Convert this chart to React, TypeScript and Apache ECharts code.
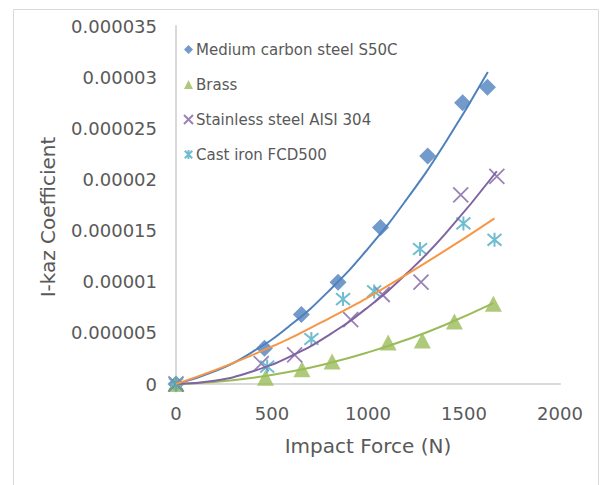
import React, { useEffect, useRef } from "react";
import * as echarts from "echarts";

// Measured points (Impact Force in N, I-kaz coefficient)
const forceS50C = [0, 461, 653, 844, 1065, 1311, 1493, 1622];
const ikazS50C = [0, 3.5e-6, 6.8e-6, 9.95e-6, 15.3e-6, 22.3e-6, 27.5e-6, 29.0e-6];

const forceBrass = [0, 466, 656, 813, 1105, 1283, 1450, 1653];
const ikazBrass = [0, 0.6e-6, 1.45e-6, 2.2e-6, 4.05e-6, 4.25e-6, 6.1e-6, 7.85e-6];

const forceSS304 = [0, 444, 618, 910, 1074, 1276, 1483, 1671];
const ikazSS304 = [0, 2.0e-6, 2.85e-6, 6.3e-6, 8.75e-6, 9.95e-6, 18.5e-6, 20.3e-6];

const forceFCD = [0, 475, 705, 870, 1032, 1271, 1497, 1659];
const ikazFCD = [0, 1.7e-6, 4.4e-6, 8.3e-6, 9.05e-6, 13.2e-6, 15.7e-6, 14.1e-6];

// Trendline samples
const trendForceS50C = [0, 200, 400, 600, 800, 1000, 1200, 1400, 1624];
const trendS50C = [0, 1.23e-6, 3.16e-6, 5.81e-6, 9.17e-6, 13.24e-6, 18.02e-6, 23.51e-6, 30.5e-6];

const trendForceBrass = [0, 200, 400, 600, 800, 1000, 1200, 1400, 1653];
const trendBrass = [0, 0.2e-6, 0.61e-6, 1.22e-6, 2.05e-6, 3.09e-6, 4.32e-6, 5.77e-6, 7.9e-6];

const trendForceSS304 = [0, 200, 400, 600, 800, 1000, 1200, 1400, 1671];
const trendSS304 = [0, 0.32e-6, 1.24e-6, 2.74e-6, 4.83e-6, 7.51e-6, 10.77e-6, 14.63e-6, 20.8e-6];

const trendForceFCD = [0, 400, 800, 1200, 1659];
const trendFCD = [0, 2.85e-6, 6.45e-6, 10.7e-6, 16.2e-6];

const seriesNames = [
  "Medium carbon steel S50C",
  "Brass",
  "Stainless steel AISI 304",
  "Cast iron FCD500",
];

const xTicks = { min: 0, max: 2000, interval: 500 };
const yTicks = { min: 0, max: 0.000035, interval: 0.000005 };

const zip = (xs: number[], ys: number[]) => xs.map((x, i) => [x, ys[i]]);

const FONT = "DejaVu Sans";
const TXT = "#595959";

const xMark = "path://M0,0L10,10M10,0L0,10";
const starMark = "path://M0,0L10,10M10,0L0,10M5,-1L5,11";

export default function App() {
  const ref = useRef<HTMLDivElement>(null);
  useEffect(() => {
    if (!ref.current) return;
    const chart = echarts.init(ref.current, undefined, { renderer: "svg" });
    const trend = (name: string, xs: number[], ys: number[], color: string) => ({
      name: name + " trend",
      type: "line",
      data: zip(xs, ys),
      smooth: true,
      showSymbol: false,
      symbol: "none",
      lineStyle: { color, width: 2 },
      z: 5,
      silent: true,
    });
    chart.setOption({
      animation: false,
      backgroundColor: "#ffffff",
      textStyle: { fontFamily: FONT },
      graphic: [
        {
          type: "rect",
          shape: { x: 13.5, y: 9.5, width: 585, height: 490 },
          style: { fill: "none", stroke: "#d9d9d9", lineWidth: 1 },
          silent: true,
          z: -10,
        },
      ],
      grid: { left: 176, right: 43, top: 26, bottom: 101, containLabel: false },
      legend: {
        data: seriesNames,
        orient: "vertical",
        left: 178,
        top: 37,
        itemWidth: 9,
        itemHeight: 9,
        itemGap: 20,
        textStyle: { fontFamily: FONT, fontSize: 15, color: TXT, padding: [0, 0, 0, -2] },
      },
      xAxis: {
        type: "value",
        ...xTicks,
        name: "Impact Force (N)",
        nameLocation: "middle",
        nameGap: 52,
        nameTextStyle: { fontFamily: FONT, fontSize: 20, color: TXT },
        axisLine: { show: true, onZero: false, lineStyle: { color: "#d9d9d9", width: 2 } },
        axisTick: { show: false },
        splitLine: { show: false },
        axisLabel: {
          fontFamily: FONT,
          fontSize: 18,
          color: TXT,
          margin: 20,
          formatter: (v: number) => String(v),
        },
      },
      yAxis: {
        type: "value",
        ...yTicks,
        name: "I-kaz Coefficient",
        nameLocation: "middle",
        nameGap: 118,
        nameTextStyle: { fontFamily: FONT, fontSize: 20, color: TXT, padding: [0, 24, 0, 0] },
        axisLine: { show: true, lineStyle: { color: "#d9d9d9", width: 2 } },
        axisTick: { show: false },
        splitLine: { show: false },
        axisLabel: {
          fontFamily: FONT,
          fontSize: 18,
          color: TXT,
          margin: 19,
          formatter: (v: number) => String(Number(v.toFixed(7))),
        },
      },
      series: [
        {
          name: seriesNames[0],
          type: "scatter",
          symbol: "diamond",
          symbolSize: 17,
          itemStyle: { color: "#4f81bd" },
          data: zip(forceS50C, ikazS50C),
          z: 3,
        },
        {
          name: seriesNames[1],
          type: "scatter",
          symbol: "triangle",
          symbolSize: [17, 16],
          itemStyle: { color: "#9bbb59" },
          data: zip(forceBrass, ikazBrass),
          z: 3,
        },
        {
          name: seriesNames[2],
          type: "scatter",
          symbol: xMark,
          symbolSize: 15,
          itemStyle: { color: "#8064a2", borderColor: "#8064a2", borderWidth: 1.8 },
          data: zip(forceSS304, ikazSS304),
          z: 3,
        },
        {
          name: seriesNames[3],
          type: "scatter",
          symbol: starMark,
          symbolSize: 14,
          itemStyle: { color: "#4bacc6", borderColor: "#4bacc6", borderWidth: 2 },
          data: zip(forceFCD, ikazFCD),
          z: 3,
        },
        trend(seriesNames[0], trendForceS50C, trendS50C, "#4f81bd"),
        trend(seriesNames[1], trendForceBrass, trendBrass, "#9bbb59"),
        trend(seriesNames[2], trendForceSS304, trendSS304, "#8064a2"),
        trend(seriesNames[3], trendForceFCD, trendFCD, "#f79646"),
      ],
    });
    return () => chart.dispose();
  }, []);
  return (
    <div
      ref={ref}
      style={{ position: "absolute", left: 0, top: 0, width: 603, height: 485 }}
    />
  );
}
